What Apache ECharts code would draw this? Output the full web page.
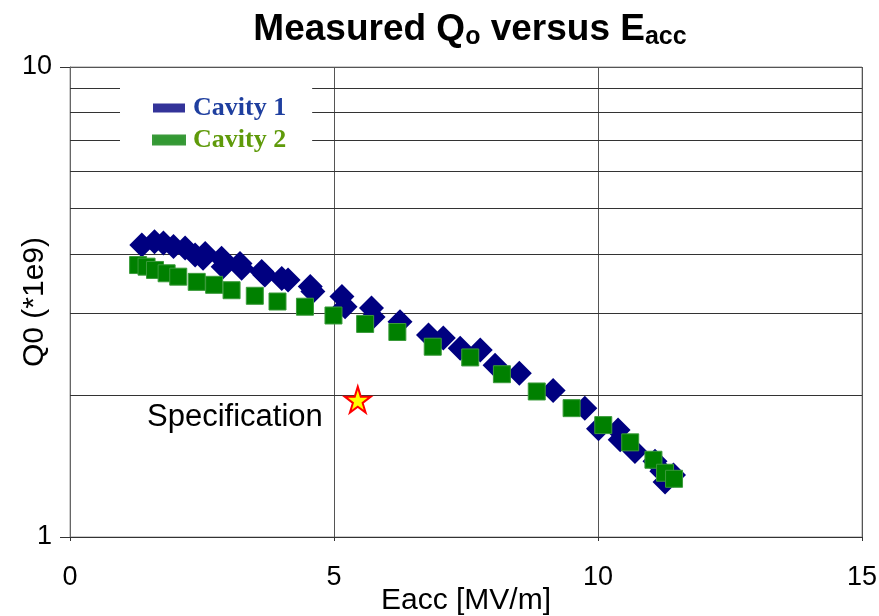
<!DOCTYPE html>
<html>
<head>
<meta charset="utf-8">
<script src="https://cdn.jsdelivr.net/npm/echarts@6/dist/echarts.min.js"></script>
<style>
    html, body { margin: 0; padding: 0; background: #fff; }
    #qo-eacc-dom { width: 879px; height: 616px; }
</style>
</head>
<body>
<div id="qo-eacc-dom"></div>
<script>
// values: Eacc in MV/m, Q0 in units of 1e9
const cavity1Eacc = [1.36, 1.60, 1.77, 1.96, 2.18, 2.37, 2.56, 2.52, 2.87, 2.90, 3.22, 3.25, 3.63, 3.69,
    4.01, 4.13, 4.55, 4.60, 5.15, 5.21, 5.71, 5.74, 6.25, 6.79, 7.07, 7.39, 7.77, 8.05, 8.51, 9.15,
    9.75, 10.01, 10.38, 10.42, 10.70, 11.08, 11.21, 11.43, 11.27];
const cavity1Q0 = [4.18, 4.25, 4.22, 4.15, 4.12, 3.98, 4.01, 3.92, 3.92, 3.76, 3.82, 3.73, 3.67, 3.61,
    3.55, 3.52, 3.41, 3.33, 3.25, 3.09, 3.07, 2.94, 2.87, 2.69, 2.65, 2.52, 2.50, 2.32, 2.23, 2.05,
    1.88, 1.70, 1.69, 1.61, 1.52, 1.45, 1.38, 1.355, 1.31];

const cavity2Eacc = [1.29, 1.45, 1.61, 1.83, 2.05, 2.40, 2.73, 3.06, 3.50, 3.93, 4.45, 4.99, 5.59, 6.20,
    6.87, 7.58, 8.18, 8.84, 9.50, 10.10, 10.61, 11.05, 11.27, 11.44];
const cavity2Q0 = [3.79, 3.76, 3.70, 3.64, 3.58, 3.49, 3.44, 3.35, 3.26, 3.17, 3.09, 2.96, 2.84, 2.73,
    2.54, 2.41, 2.22, 2.04, 1.88, 1.73, 1.59, 1.46, 1.37, 1.33];

const specEacc = [5.45];
const specQ0 = [1.96];

// minor log gridlines 2..9
const q0GridValues = [2, 3, 4, 5, 6, 7, 8, 9];
const eaccTicks = [0, 5, 10, 15];

const STAR = 'path://M50,0 L61,35 L98,35 L68,57 L79,91 L50,70 L21,91 L32,57 L2,35 L39,35 Z';
const AXIS_FONT = 'Liberation Sans';

function pairs(xs, ys) {
    let out = [];
    for (let i = 0; i < xs.length; i++) {
        out.push([xs[i], ys[i]]);
    }
    return out;
}

function draw() {
    let dom = document.getElementById('qo-eacc-dom');
    let chart = echarts.init(dom, null, { renderer: 'canvas' });

    let option = {
        animation: false,
        backgroundColor: '#fff',
        title: {
            text: '{m|Measured Q}{s|o}{m| versus E}{s|acc}',
            left: 465,
            top: 5,
            textAlign: 'center',
            textStyle: {
                rich: {
                    m: { fontFamily: AXIS_FONT, fontSize: 37, fontWeight: 'bold', color: '#000', lineHeight: 40 },
                    s: { fontFamily: AXIS_FONT, fontSize: 25, fontWeight: 'bold', color: '#000', lineHeight: 16, verticalAlign: 'bottom' }
                }
            }
        },
        legend: {
            orient: 'vertical',
            left: 120,
            top: 82,
            padding: [13, 26, 2, 32],
            itemGap: 6,
            itemWidth: 32,
            itemHeight: 9,
            icon: 'rect',
            backgroundColor: '#fff',
            z: 6,
            textStyle: { fontFamily: 'Liberation Serif', fontWeight: 'bold', fontSize: 26, lineHeight: 26, padding: [0, 0, 0, 3] },
            data: [
                { name: 'Cavity 1', itemStyle: { color: '#333399', opacity: 1 }, textStyle: { color: '#1f3f9f' } },
                { name: 'Cavity 2', itemStyle: { color: '#339933', opacity: 1 }, textStyle: { color: '#5f9a0a' } }
            ]
        },
        grid: {
            left: 70,
            right: 17,
            top: 67,
            bottom: 79,
            show: true,
            borderColor: '#999',
            borderWidth: 1,
            outerBoundsMode: 'none'
        },
        xAxis: {
            type: 'value',
            min: eaccTicks[0],
            max: eaccTicks[eaccTicks.length - 1],
            interval: 5,
            name: 'Eacc [MV/m]',
            nameLocation: 'middle',
            nameGap: 49,
            nameMoveOverlap: false,
            nameTextStyle: { fontFamily: AXIS_FONT, fontSize: 30, color: '#000' },
            axisLine: { lineStyle: { color: '#333', width: 1 } },
            axisTick: { show: true, length: 4, lineStyle: { color: '#333' } },
            axisLabel: { fontFamily: AXIS_FONT, fontSize: 27, color: '#000', margin: 27 },
            splitLine: { show: true, lineStyle: { color: '#555', width: 1 } }
        },
        yAxis: {
            type: 'log',
            logBase: 10,
            min: 1,
            max: 10,
            name: 'Q0 (*1e9)',
            nameLocation: 'middle',
            nameGap: 20,
            nameRotate: 90,
            nameMoveOverlap: false,
            nameTextStyle: { fontFamily: AXIS_FONT, fontSize: 30, color: '#000' },
            axisLine: { show: true, lineStyle: { color: '#666', width: 1 } },
            axisTick: { show: true, length: 10, lineStyle: { color: '#333' } },
            axisLabel: { fontFamily: AXIS_FONT, fontSize: 27, color: '#000', margin: 18 },
            splitLine: { show: true, lineStyle: { color: '#555', width: 1 } },
            minorTick: { show: false },
            minorSplitLine: { show: false }
        },
        series: [
            {
                name: 'grid',
                type: 'scatter',
                data: [],
                z: 1,
                silent: true,
                markLine: {
                    z: 1,
                    silent: true,
                    symbol: ['none', 'none'],
                    label: { show: false },
                    lineStyle: { color: '#333', width: 1, type: 'solid' },
                    data: q0GridValues.map(v => ({ yAxis: v }))
                }
            },
            {
                name: 'Cavity 1',
                type: 'scatter',
                symbol: 'diamond',
                symbolSize: 25,
                itemStyle: { color: '#000080', opacity: 1 },
                data: pairs(cavity1Eacc, cavity1Q0),
                z: 3
            },
            {
                name: 'Cavity 2',
                type: 'scatter',
                symbol: 'rect',
                symbolSize: 17,
                itemStyle: { color: '#008000', borderColor: '#3a9a3a', borderWidth: 1, opacity: 1 },
                data: pairs(cavity2Eacc, cavity2Q0),
                z: 4
            },
            {
                name: 'Specification',
                type: 'scatter',
                symbol: STAR,
                symbolSize: 26,
                itemStyle: { color: '#ffff00', borderColor: '#ff0000', borderWidth: 2, opacity: 1 },
                label: {
                    show: true,
                    formatter: 'Specification',
                    position: 'left',
                    distance: 21,
                    offset: [0, 18],
                    fontFamily: AXIS_FONT,
                    fontSize: 31,
                    color: '#000'
                },
                data: pairs(specEacc, specQ0),
                z: 5
            }
        ]
    };
    chart.setOption(option);
    window.addEventListener('resize', function () {
        chart.resize();
    });
}

draw();
</script>
</body>
</html>
